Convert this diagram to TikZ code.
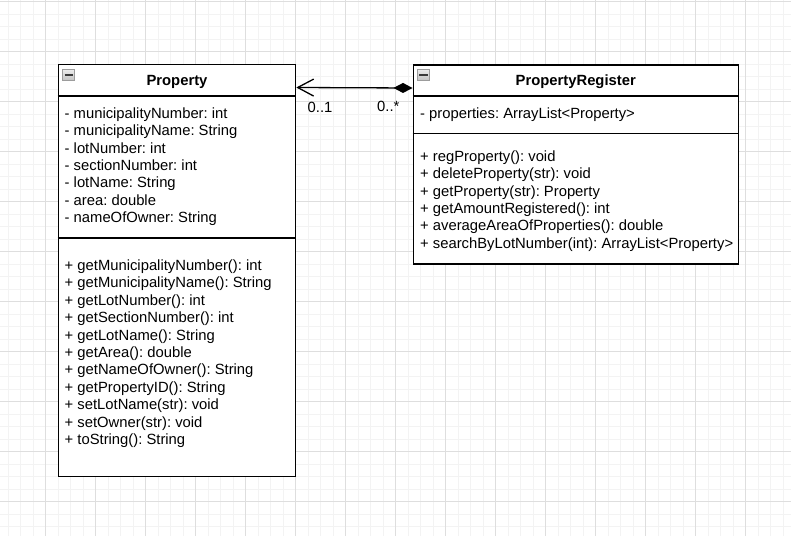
\documentclass[tikz,border=0pt]{standalone}
\usepackage{fontspec}
\setmainfont{Liberation Sans}
\usetikzlibrary{arrows.meta,calc}

\definecolor{gridminor}{HTML}{F3F3F3}
\definecolor{gridmajor}{HTML}{DEDEDE}
\definecolor{iconedge}{HTML}{9C9C9C}
\definecolor{icontop}{HTML}{EEEEEE}
\definecolor{iconbottom}{HTML}{C4C4C4}
\definecolor{iconbar}{HTML}{3A3A3A}

\begin{document}
\frenchspacing
\begin{tikzpicture}[x=1pt,y=-1pt,
  minorline/.style={draw=gridminor, line width=1pt},
  majorline/.style={draw=gridmajor, line width=1pt},
  umlbox/.style={draw=black, line width=1.3pt, fill=white, inner sep=0pt, anchor=north west},
  divider/.style={draw=black, line width=1.3pt},
  member/.style={anchor=base west, inner sep=0pt, font=\fontsize{14.8}{17.4}\selectfont\frenchspacing},
  classtitle/.style={anchor=base, inner sep=0pt, font=\fontsize{14.8}{17.4}\selectfont\bfseries},
  foldicon/.style={draw=iconedge, line width=0.8pt, top color=icontop, bottom color=iconbottom,
    minimum width=12pt, minimum height=11pt, inner sep=0pt},
  foldbar/.style={draw=iconbar, line width=2pt},
  composition/.style={line width=1.3pt,
    {Diamond[length=19pt,width=10pt]}-{Straight Barb[length=16pt,width=17pt]}}
]
\useasboundingbox (0,0) rectangle (791,536);
\fill[white] (0,0) rectangle (791,536);

% background grid
\foreach \x in {8,20.5,...,791} \draw[minorline] (\x,0) -- (\x,536);
\foreach \y in {1.5,14,...,536} \draw[minorline] (0,\y) -- (791,\y);
\foreach \x in {45.5,95.5,...,791} \draw[majorline] (\x,0) -- (\x,536);
\foreach \y in {1.5,51.5,...,536} \draw[majorline] (0,\y) -- (791,\y);

% class Property
\node[umlbox, minimum width=237.3pt, minimum height=411.7pt] (prop) at (57.7,64) {};
\draw[divider] ($(prop.north west)+(0,32)$) -- ($(prop.north east)+(0,32)$);
\draw[divider] ($(prop.north west)+(0,174)$) -- ($(prop.north east)+(0,174)$);
\node[foldicon] (propicon) at (68.7,74.5) {};
\draw[foldbar] ($(propicon.west)+(2.2,0)$) -- ($(propicon.east)+(-2.2,0)$);
\node[classtitle] (proptitle) at ($(prop.north)+(0,21.7)$) {Property};

\foreach \t [count=\i] in {
  - municipalityNumber: int,
  - municipalityName: String,
  - lotNumber: int,
  - sectionNumber: int,
  - lotName: String,
  - area: double,
  - nameOfOwner: String}
  \node[member] (pa\i) at (64.5,{118.3+17.4*(\i-1)}) {\t};

\foreach \t [count=\i] in {
  + getMunicipalityNumber(): int,
  + getMunicipalityName(): String,
  + getLotNumber(): int,
  + getSectionNumber(): int,
  + getLotName(): String,
  + getArea(): double,
  + getNameOfOwner(): String,
  + getPropertyID(): String,
  + setLotName(str): void,
  + setOwner(str): void,
  + toString(): String}
  \node[member] (pm\i) at (64.5,{270.5+17.4*(\i-1)}) {\t};

% class PropertyRegister
\node[umlbox, minimum width=325.2pt, minimum height=199pt] (reg) at (412.5,64.3) {};
\draw[divider] ($(reg.north west)+(0,31.7)$) -- ($(reg.north east)+(0,31.7)$);
\draw[divider] ($(reg.north west)+(0,69)$) -- ($(reg.north east)+(0,69)$);
\node[foldicon] (regicon) at (423.6,74.5) {};
\draw[foldbar] ($(regicon.west)+(2.2,0)$) -- ($(regicon.east)+(-2.2,0)$);
\node[classtitle] (regtitle) at ($(reg.north)+(0,21.4)$) {PropertyRegister};

\node[member] (ra1) at (420,118.3) {- properties: ArrayList<Property>};

\foreach \t [count=\i] in {
  + regProperty(): void,
  + deleteProperty(str): void,
  + getProperty(str): Property,
  + getAmountRegistered(): int,
  + averageAreaOfProperties(): double,
  + searchByLotNumber(int): ArrayList<Property>}
  \node[member] (rm\i) at (420,{161.3+17.4*(\i-1)}) {\t};

% composition: PropertyRegister holds Property objects
\coordinate (pend) at ($(prop.north east)+(0,23.5)$);
\coordinate (rend) at ($(reg.north west)+(0,23.7)$);
\draw[composition] (rend) -- (pend);
\node[member] (multprop) at (307.5,112.7) {0..1};
\node[member] (multreg) at (377,111.7) {0..*};
\end{tikzpicture}
\end{document}
